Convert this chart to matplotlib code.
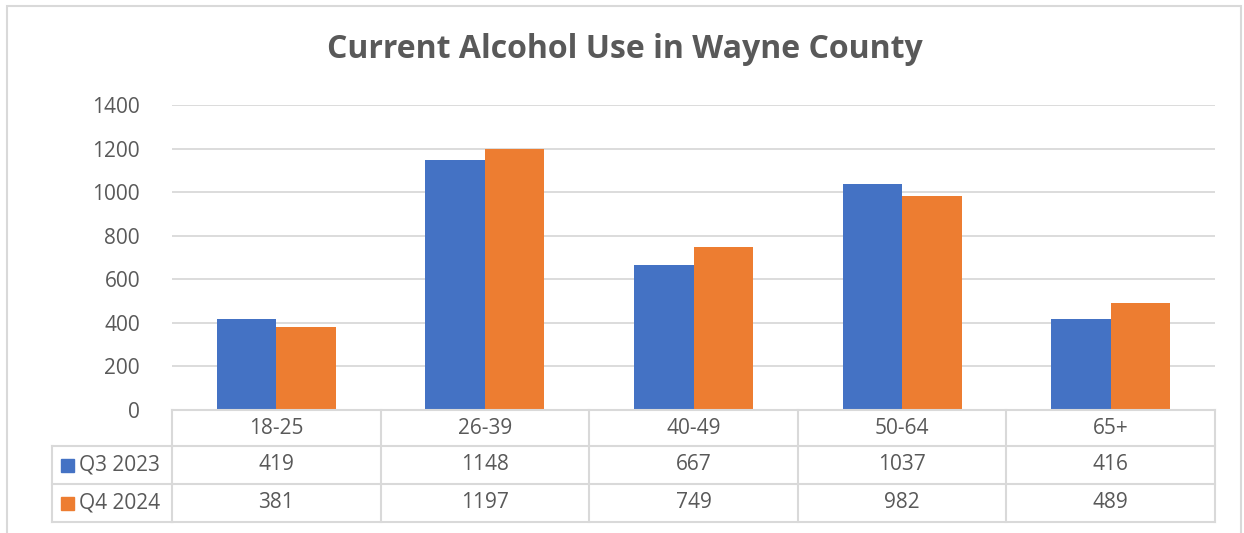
import numpy as np
import matplotlib
matplotlib.use('Agg')
import matplotlib.pyplot as plt
from matplotlib.patches import Rectangle

# ── data ─────────────────────────────────────────────────────────────────────
categories = ['18-25', '26-39', '40-49', '50-64', '65+']
series_names = ['Q3 2023', 'Q4 2024']
q3_2023 = [419, 1148, 667, 1037, 416]
q4_2024 = [381, 1197, 749, 982, 489]

# ── style ────────────────────────────────────────────────────────────────────
C_BLUE = '#4472C4'
C_ORANGE = '#ED7D31'
TXT = '#595959'
GRID = '#D9D9D9'
plt.rcParams['font.family'] = ['Open Sans', 'DejaVu Sans']

W, H = 1244, 533
fig = plt.figure(figsize=(W / 100, H / 100), dpi=100)

# plot area in pixels: x 172..1215, y 105..410
ax_l, ax_r, ax_t, ax_b = 172, 1215, 105, 410
ax = fig.add_axes([ax_l / W, 1 - ax_b / H, (ax_r - ax_l) / W, (ax_b - ax_t) / H])

n = len(categories)
x = np.arange(n)
w = 0.285
ax.bar(x - w / 2, q3_2023, w, color=C_BLUE, zorder=3)
ax.bar(x + w / 2, q4_2024, w, color=C_ORANGE, zorder=3)

fs = 15
ax.set_xlim(-0.5, n - 0.5)
ax.set_ylim(0, 1400)
ax.set_yticks(np.arange(0, 1401, 200))
ax.tick_params(axis='y', length=0, pad=23, labelsize=fs, labelcolor=TXT)
ax.set_xticks([])
ax.grid(True, axis='y', color=GRID, linewidth=1.3, zorder=0)
for s in ax.spines.values():
    s.set_visible(False)

# ── data table under the plot ────────────────────────────────────────────────
axh = ax_b - ax_t
colw = (ax_r - ax_l) / n               # pixels per category

def yfrac(ypix):
    return (ax_b - ypix) / axh

rows_y = [410, 446, 484, 522]          # row boundaries (pixels)
tr = ax.get_xaxis_transform()
lw = 1.5
# horizontal lines over category columns
for yp in rows_y:
    ax.plot([-0.5, n - 0.5], [yfrac(yp)] * 2, transform=tr, color=GRID,
            lw=lw, clip_on=False, zorder=4)
# vertical lines at category boundaries
for xb in np.arange(-0.5, n, 1.0):
    ax.plot([xb, xb], [yfrac(rows_y[0]), yfrac(rows_y[-1])], transform=tr,
            color=GRID, lw=lw, clip_on=False, zorder=4)
# row-label column (x 52..172) for the two series rows
lab_l = -0.5 - (172 - 52) / colw
for yp in rows_y[1:]:
    ax.plot([lab_l, -0.5], [yfrac(yp)] * 2, transform=tr, color=GRID,
            lw=lw, clip_on=False, zorder=4)
ax.plot([lab_l, lab_l], [yfrac(rows_y[1]), yfrac(rows_y[-1])], transform=tr,
        color=GRID, lw=lw, clip_on=False, zorder=4)

for i, c in enumerate(categories):
    ax.text(i, yfrac((rows_y[0] + rows_y[1]) / 2), c, transform=tr,
            ha='center', va='center', fontsize=fs, color=TXT)
for r, (name, vals, col) in enumerate(zip(series_names, [q3_2023, q4_2024],
                                          [C_BLUE, C_ORANGE])):
    yc = yfrac((rows_y[r + 1] + rows_y[r + 2]) / 2)
    for i, v in enumerate(vals):
        ax.text(i, yc, f'{v}', transform=tr, ha='center', va='center',
                fontsize=fs, color=TXT)
    # legend key + series name
    ax.add_patch(Rectangle((lab_l + 9 / colw, yc - 6.5 / axh), 13 / colw,
                           13 / axh, transform=tr, color=col, clip_on=False,
                           zorder=5))
    ax.text(lab_l + 27 / colw, yc, name, transform=tr,
            ha='left', va='center', fontsize=fs, color=TXT)

# ── title and outer frame ────────────────────────────────────────────────────
fig.text(625 / W, 1 - 49 / H, 'Current Alcohol Use in Wayne County',
         ha='center', va='center', fontsize=23, fontweight='bold', color=TXT)
fig.patches.append(Rectangle((7 / W, -0.05), (1241 - 7) / W, 1.05 - 6 / H,
                             transform=fig.transFigure, fill=False,
                             edgecolor=GRID, lw=1.5))

fig.savefig('out.png', dpi=100)
